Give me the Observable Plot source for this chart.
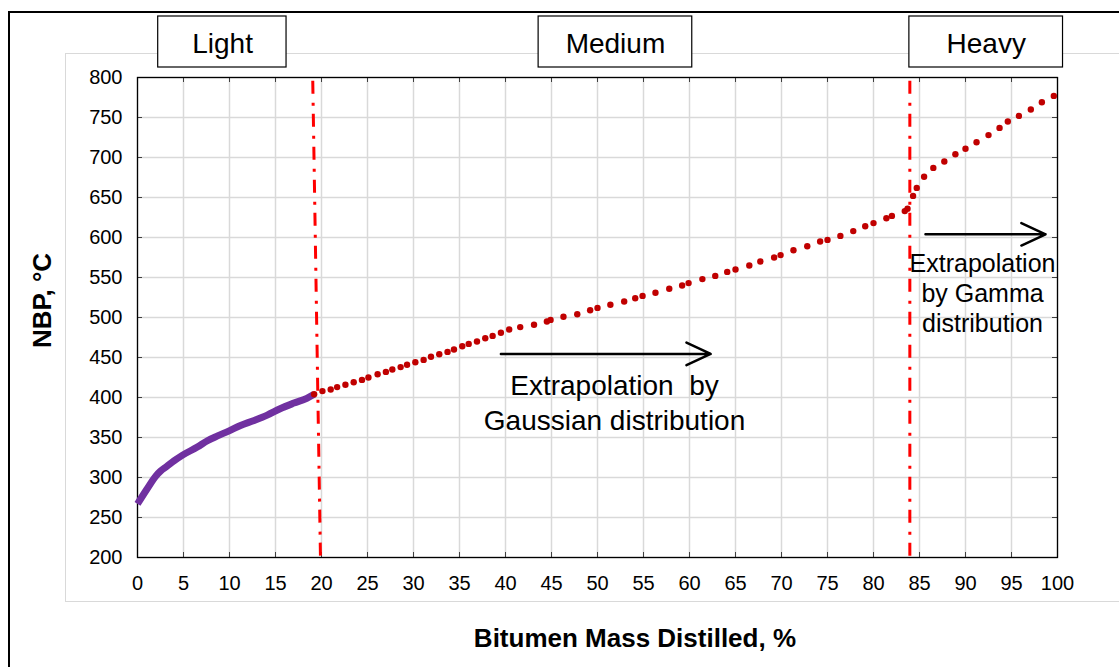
<!DOCTYPE html>
<html><head><meta charset="utf-8">
<script src="https://cdn.jsdelivr.net/npm/d3@7"></script>
<script src="https://cdn.jsdelivr.net/npm/@observablehq/plot@0.6"></script>
<style>
html,body{margin:0;padding:0;background:#fff;overflow:hidden;width:1119px;height:667px;}
#wrap{position:relative;width:1119px;height:667px;overflow:hidden;}
.outer{position:absolute;left:8px;top:11px;width:1200px;height:1000px;border:2px solid #000;box-sizing:border-box;}
.area{position:absolute;left:65px;top:53px;width:1100px;height:549px;border:1px solid #d9d9d9;box-sizing:border-box;}
#chart{position:absolute;left:0;top:0;}
</style></head>
<body><div id="wrap"><div class="outer"></div><div class="area"></div><div id="chart"></div></div>
<script>
// ---- data ----
const xTitle = "Bitumen Mass Distilled, %";
const yTitle = "NBP, °C";
const xTickValues = [0,5,10,15,20,25,30,35,40,45,50,55,60,65,70,75,80,85,90,95,100];
const yTickValues = [200,250,300,350,400,450,500,550,600,650,700,750,800];
const regionNames = ["Light","Medium","Heavy"];
const cutPoints = [20, 84];

// measured (light) part
const lightX = [0,1,2,2.5,3.2,4.0,4.9,6.5,7.6,8.7,9.9,11.2,12.6,14.1,15.5,17,18.4,19.2];
const lightY = [267,285,302,308,314,321,328,338,346,352,358,365,371,378,386,393,399,404];

// extrapolated (medium + heavy) points
const extX = [19.2,20.1,21.0,21.7,22.6,23.5,24.4,25.1,26.1,27.0,27.7,28.6,29.3,30.2,31.1,31.9,32.8,33.7,34.4,35.3,36.0,36.9,37.8,38.6,39.5,40.4,
  41.6,43.1,44.5,44.9,46.3,47.8,49.2,50.0,51.4,52.9,54.1,54.9,56.3,57.8,59.2,59.9,61.4,62.8,64.1,65.0,66.5,67.7,69.2,69.9,71.3,72.8,
  74.2,75.0,76.4,77.8,79.1,80.0,81.4,82.0,83.4,83.7,
  84.3,84.7,85.5,86.5,87.7,88.9,90.0,91.2,92.5,93.7,94.6,95.8,97.1,98.3,99.6];
const extY = [404,408,410,413,416,419,422,425,429,432,435,438,441,444,447,451,454,457,460,464,467,470,474,477,481,485,
  488,491,495,497,501,504,509,512,516,520,524,527,531,536,540,543,548,552,557,560,565,570,575,578,584,589,
  595,597,602,608,614,618,624,627,633,636,
  652,662,676,687,695,704,711,719,728,737,745,752,760,769,777];

const annotations = [
  {text:"Extrapolation\u00a0 by\nGaussian distribution"},
  {text:"Extrapolation\nby Gamma\ndistribution"}
];

// ---- build ----
const lightData = lightX.map((x,i)=>({x, y: lightY[i]}));
const extData = extX.map((x,i)=>({x, y: extY[i]}));

const W = 1119, H = 667, mL = 137, mR = 62, mT = 77, mB = 110;
const plotW = W - mL - mR, plotH = H - mT - mB;

const boxes = [
  {t: regionNames[0], x1: 2.25, x2: 16.2, cx: 9.25},
  {t: regionNames[1], x1: 43.6, x2: 60.3, cx: 51.95},
  {t: regionNames[2], x1: 83.9, x2: 100.6, cx: 92.25}
];
const arrows = [
  {x1: 39.5, x2: 62.3, y: 454.5},
  {x1: 85.65, x2: 98.7, y: 604}
];
// boundary lines (the first one is drawn slightly slanted, as in the source)
const boundaryLines = [
  {x1: cutPoints[0] - 0.95, x2: cutPoints[0] - 0.1},
  {x1: cutPoints[1] - 0.05, x2: cutPoints[1] - 0.05}
];

const chart = Plot.plot({
  width: W, height: H,
  marginLeft: mL, marginRight: mR, marginTop: mT, marginBottom: mB,
  style: {background: "transparent", overflow: "visible", fontFamily: "'Liberation Sans', Arial, sans-serif", color: "#000"},
  x: {domain: [0, 100]},
  y: {domain: [200, 800]},
  marks: [
    Plot.gridX(xTickValues, {stroke: "#d9d9d9", strokeOpacity: 1, strokeWidth: 1.5}),
    Plot.gridY(yTickValues, {stroke: "#d9d9d9", strokeOpacity: 1, strokeWidth: 1.5}),
    Plot.ruleX(xTickValues, {insetTop: plotH - 5, stroke: "#404040"}),
    Plot.ruleX(xTickValues, {insetBottom: plotH - 5, stroke: "#404040"}),
    Plot.ruleY(yTickValues, {insetRight: plotW - 5, stroke: "#404040"}),
    Plot.ruleY(yTickValues, {insetLeft: plotW - 5, stroke: "#404040"}),
    Plot.frame({stroke: "#000", strokeWidth: 1.3}),
    Plot.axisX(xTickValues, {tickSize: 0, tickPadding: 18, fontSize: 20, label: null, fill: "#000"}),
    Plot.axisY(yTickValues, {tickSize: 0, tickPadding: 15, fontSize: 20, label: null, fill: "#000"}),
    Plot.line(lightData, {x: "x", y: "y", stroke: "#7030a0", strokeWidth: 7, curve: "monotone-x", strokeLinecap: "butt"}),
    Plot.link(boundaryLines, {x1: "x1", x2: "x2", y1: 796, y2: 192, stroke: "#ff0000", strokeWidth: 3, strokeDasharray: "13,9,3,8"}),
    Plot.dot(extData, {x: "x", y: "y", r: 3.2, fill: "#c00000", stroke: "none"}),
    Plot.arrow(arrows, {x1: "x1", x2: "x2", y1: "y", y2: "y", stroke: "#000", strokeWidth: 2.5, headLength: 16, headAngle: 50, bend: 0}),
    Plot.text([annotations[0]], {x: 51.85, y: 360, text: "text", fontSize: 28, lineHeight: 1.25, lineAnchor: "bottom", fill: "#000"}),
    Plot.text([annotations[1]], {x: 91.85, y: 481.6, text: "text", fontSize: 25, lineHeight: 1.2, lineAnchor: "bottom", fill: "#000"}),
    Plot.rect(boxes, {x1: "x1", x2: "x2", y1: 812.5, y2: 876.25, fill: "white", stroke: "#000", strokeWidth: 1.2}),
    Plot.text(boxes, {x: "cx", y: 831, text: "t", fontSize: 28, lineAnchor: "bottom", fill: "#000"}),
    Plot.text([xTitle], {x: 54.07, y: 99, text: d => d, fontSize: 26, fontWeight: "bold", fill: "#000"}),
    Plot.text([yTitle], {x: -10.33, y: 521.25, text: d => d, rotate: -90, fontSize: 26, fontWeight: "bold", fill: "#000"})
  ]
});
document.getElementById("chart").appendChild(chart);
</script>
</body></html>
